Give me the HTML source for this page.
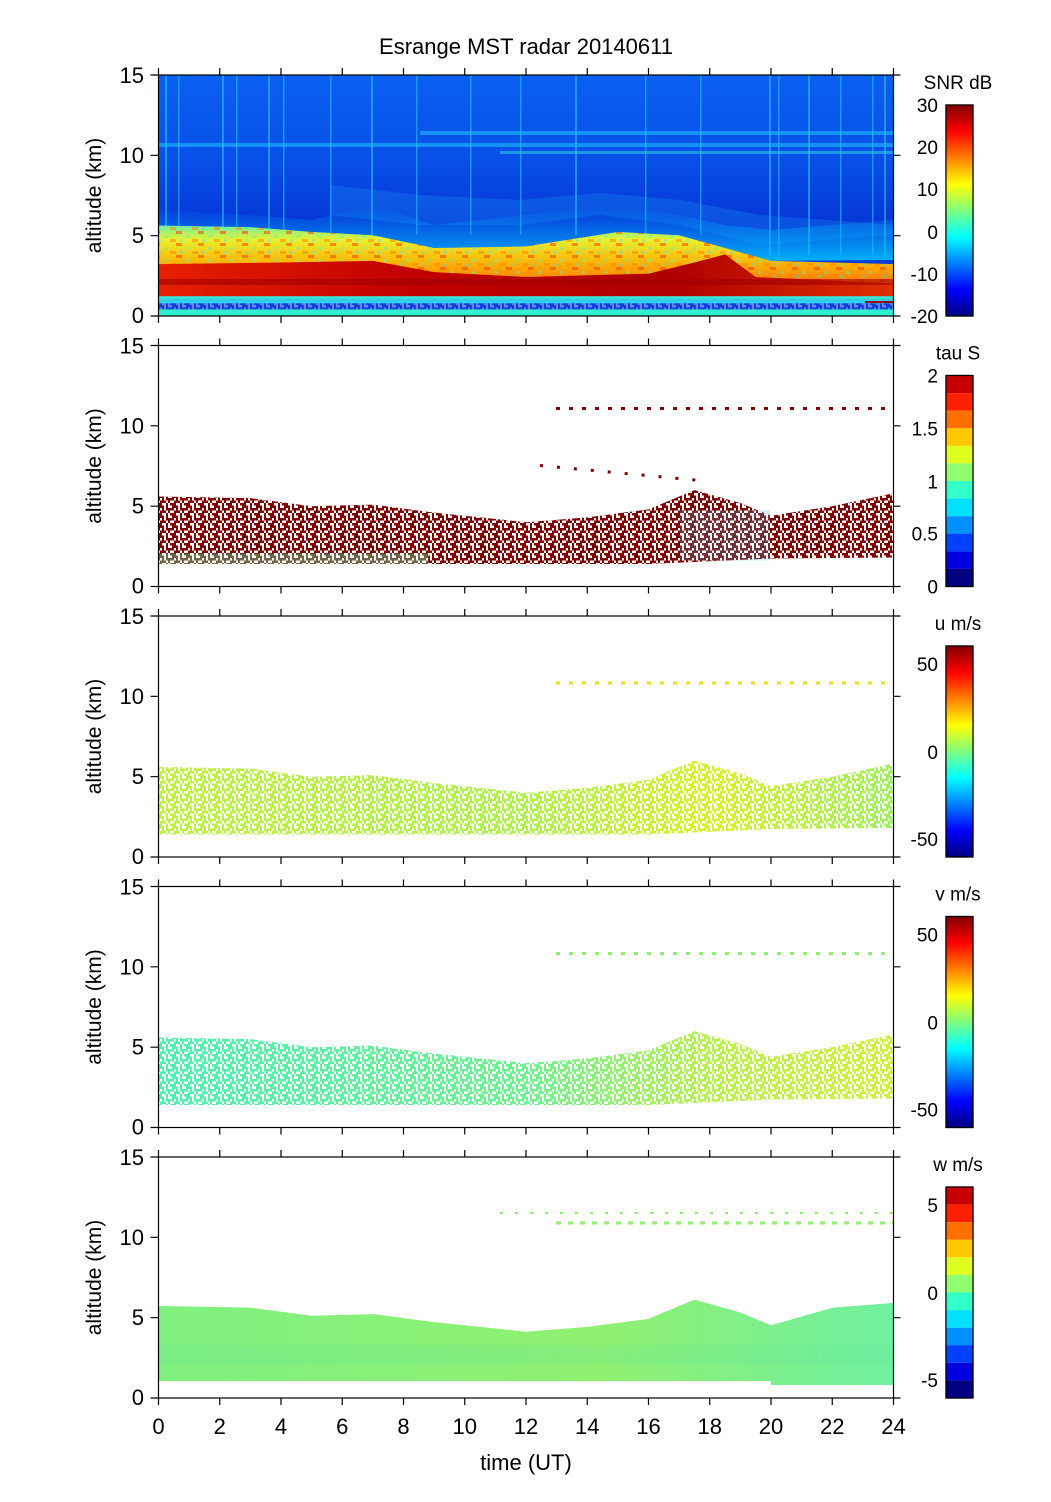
<!DOCTYPE html>
<html><head><meta charset="utf-8">
<style>
html,body{margin:0;padding:0;background:#fff;}
svg{display:block;}
text{font-family:"Liberation Sans",sans-serif;fill:#000;}
</style></head>
<body>
<svg width="1051" height="1502" xmlns="http://www.w3.org/2000/svg" xmlns:xlink="http://www.w3.org/1999/xlink">
<defs>
<linearGradient id="jet" x1="0" y1="0" x2="0" y2="1">
<stop offset="0" stop-color="#800000"/><stop offset="0.125" stop-color="#ff0000"/>
<stop offset="0.375" stop-color="#ffff00"/><stop offset="0.625" stop-color="#00ffff"/>
<stop offset="0.875" stop-color="#0000ff"/><stop offset="1" stop-color="#000080"/>
</linearGradient>
<linearGradient id="sky" x1="0" y1="0" x2="0" y2="1">
<stop offset="0" stop-color="#0a60f0"/><stop offset="0.35" stop-color="#0850e8"/>
<stop offset="0.6" stop-color="#0638d8"/><stop offset="1" stop-color="#0640d8"/>
</linearGradient>
<linearGradient id="warm" x1="0" y1="0" x2="0" y2="1">
<stop offset="0" stop-color="#70f0a0"/><stop offset="0.2" stop-color="#e8f030"/>
<stop offset="0.55" stop-color="#ffb000"/><stop offset="1" stop-color="#ff5000"/>
</linearGradient>
<linearGradient id="cyanfade" x1="0" y1="0" x2="0" y2="1">
<stop offset="0" stop-color="#00a0ff" stop-opacity="0"/><stop offset="1" stop-color="#00d0ff" stop-opacity="0.8"/>
</linearGradient>
<linearGradient id="core" x1="0" y1="0" x2="1" y2="0">
<stop offset="0" stop-color="#e82000"/><stop offset="0.35" stop-color="#c00000"/>
<stop offset="0.7" stop-color="#b00000"/><stop offset="1" stop-color="#e03000"/>
</linearGradient>
<linearGradient id="ucol" x1="0" y1="0" x2="1" y2="0">
<stop offset="0" stop-color="#c0f048"/><stop offset="0.5" stop-color="#b0f050"/>
<stop offset="0.75" stop-color="#d8f030"/><stop offset="1" stop-color="#a0f060"/>
</linearGradient>
<linearGradient id="vcol" x1="0" y1="0" x2="1" y2="0">
<stop offset="0" stop-color="#50f0b0"/><stop offset="0.5" stop-color="#70f090"/>
<stop offset="0.75" stop-color="#b8f050"/><stop offset="1" stop-color="#d0f040"/>
</linearGradient>
<linearGradient id="wcol" x1="0" y1="0" x2="1" y2="0">
<stop offset="0" stop-color="#80f080"/><stop offset="0.6" stop-color="#90f070"/>
<stop offset="1" stop-color="#70f0a0"/>
</linearGradient>
<pattern id="holes" width="14" height="10" patternUnits="userSpaceOnUse">
<rect x="0" y="0" width="4" height="2.5" fill="#fff"/>
<rect x="6" y="2.5" width="2" height="2.5" fill="#fff"/>
<rect x="10" y="0" width="2" height="5" fill="#fff"/>
<rect x="2" y="5" width="4" height="2.5" fill="#fff"/>
<rect x="8" y="7.5" width="4" height="2.5" fill="#fff"/>
<rect x="12" y="5" width="2" height="2.5" fill="#fff"/>
<rect x="0" y="7.5" width="2" height="2.5" fill="#fff"/>
</pattern>
<pattern id="mottle" width="22" height="12" patternUnits="userSpaceOnUse">
<rect x="0" y="0" width="6" height="3" fill="#ff3000" opacity="0.5"/>
<rect x="10" y="4" width="4" height="3" fill="#60f0c0" opacity="0.4"/>
<rect x="16" y="8" width="6" height="3" fill="#ff8000" opacity="0.5"/>
<rect x="4" y="8" width="3" height="3" fill="#40e0ff" opacity="0.35"/>
</pattern>
<g id="frame">
<rect x="158.5" y="0" width="735" height="241" fill="none" stroke="#000" stroke-width="1.2"/>
<path d="M158.5,241v7M219.75,241v7M281,241v7M342.25,241v7M403.5,241v7M464.75,241v7M526,241v7M587.25,241v7M648.5,241v7M709.75,241v7M771,241v7M832.25,241v7M893.5,241v7
M158.5,0v-7M219.75,0v-7M281,0v-7M342.25,0v-7M403.5,0v-7M464.75,0v-7M526,0v-7M587.25,0v-7M648.5,0v-7M709.75,0v-7M771,0v-7M832.25,0v-7M893.5,0v-7
M150.5,0h8M150.5,80.33h8M150.5,160.67h8M150.5,241h8M893.5,0h7M893.5,80.33h7M893.5,160.67h7M893.5,241h7" stroke="#000" stroke-width="1.2" fill="none"/>
<text x="144" y="8" font-size="22" text-anchor="end">15</text>
<text x="144" y="88" font-size="22" text-anchor="end">10</text>
<text x="144" y="168" font-size="22" text-anchor="end">5</text>
<text x="144" y="248" font-size="22" text-anchor="end">0</text>
<text transform="translate(101,120.5) rotate(-90)" font-size="21" text-anchor="middle">altitude (km)</text>
<rect x="946" y="30" width="27" height="211" fill="none" stroke="#000" stroke-width="1.2"/>
</g>
<g id="disc">
<rect x="946" y="30" width="27" height="17.6" fill="#c80000"/>
<rect x="946" y="47.6" width="27" height="17.6" fill="#ff2000"/>
<rect x="946" y="65.2" width="27" height="17.6" fill="#ff7000"/>
<rect x="946" y="82.8" width="27" height="17.6" fill="#ffc800"/>
<rect x="946" y="100.3" width="27" height="17.6" fill="#e0ff20"/>
<rect x="946" y="117.9" width="27" height="17.6" fill="#90ff70"/>
<rect x="946" y="135.5" width="27" height="17.6" fill="#30ffc8"/>
<rect x="946" y="153.1" width="27" height="17.6" fill="#00e0ff"/>
<rect x="946" y="170.7" width="27" height="17.6" fill="#0090ff"/>
<rect x="946" y="188.2" width="27" height="17.6" fill="#0040ff"/>
<rect x="946" y="205.8" width="27" height="17.6" fill="#0000e0"/>
<rect x="946" y="223.4" width="27" height="17.6" fill="#000080"/>
</g>
</defs>

<text x="526" y="54" font-size="22" text-anchor="middle">Esrange MST radar 20140611</text>

<g transform="translate(0,75)">
<rect x="158.5" y="0" width="735" height="241" fill="url(#sky)"/>
<g fill="#30c8ff" opacity="0.55">
<rect x="165" y="0" width="2" height="160"/><rect x="178" y="0" width="1.5" height="160"/>
<rect x="222" y="0" width="2" height="160"/><rect x="236" y="0" width="1.5" height="160"/>
<rect x="268" y="0" width="2" height="160"/><rect x="283" y="0" width="1.5" height="160"/>
<rect x="330" y="0" width="1.5" height="160"/><rect x="371" y="0" width="2" height="160"/>
<rect x="416" y="0" width="1.5" height="160"/><rect x="470" y="0" width="1.5" height="160"/>
<rect x="520" y="0" width="1.5" height="160"/><rect x="575" y="0" width="2" height="160"/>
<rect x="645" y="0" width="1.5" height="160"/><rect x="700" y="0" width="1.5" height="160"/>
<rect x="769" y="0" width="2" height="180"/><rect x="778" y="0" width="1.5" height="180"/>
<rect x="808" y="0" width="2" height="180"/><rect x="840" y="0" width="1.5" height="180"/>
<rect x="872" y="0" width="1.5" height="180"/><rect x="884" y="0" width="2" height="180"/>
</g>
<rect x="158.5" y="68" width="735" height="4" fill="#20d0ff" opacity="0.5"/>
<rect x="420" y="56" width="473" height="4" fill="#20d0ff" opacity="0.5"/>
<rect x="500" y="76" width="393" height="3" fill="#30e0e0" opacity="0.5"/>
<polygon fill="#20b0ff" opacity="0.22" points="330,110 420,120 520,125 600,118 680,125 760,140 893,150 893,160 760,170 680,150 600,140 520,150 420,150 330,140"/>
<polygon fill="url(#cyanfade)" points="158.5,135 250.4,140 311.6,145 372.9,130 434.1,150 526,140 617.9,130 679.1,140 725.1,150 771,155 893.5,145 893.5,185 771,185.9 725.1,173 679.1,160.2 617.9,156.9 526,171.4 434.1,173 372.9,160.2 311.6,156.9 250.4,152.1 158.5,150.5"/>
<polygon fill="url(#warm)" points="158.5,150.5 250.4,152.1 311.6,156.9 372.9,160.2 434.1,173 526,171.4 617.9,156.9 679.1,160.2 725.1,173 771,185.9 893.5,189.1 893.5,221.2 158.5,221.2"/>
<polygon fill="url(#mottle)" points="158.5,150.5 250.4,152.1 311.6,156.9 372.9,160.2 434.1,173 526,171.4 617.9,156.9 679.1,160.2 725.1,173 771,185.9 893.5,189.1 893.5,221.2 158.5,221.2"/>
<polygon fill="url(#core)" points="158.5,189.1 281,187.5 372.9,185.9 434.1,197.1 526,202 648.5,198.7 694.4,187.5 725.1,179.4 755.7,202 893.5,208.4 893.5,221.2 158.5,221.2"/>
<rect x="158.5" y="204" width="735" height="6" fill="#a00000" opacity="0.6"/>
<rect x="158.5" y="221.2" width="735" height="3.2" fill="#40e0d0"/>
<rect x="158.5" y="224.4" width="735" height="4" fill="#30d0f0"/>
<rect x="158.5" y="228.4" width="735" height="6" fill="#1040e0"/>
<rect x="158.5" y="228.4" width="735" height="6" fill="url(#holes)" opacity="0.35"/>
<rect x="158.5" y="234.4" width="735" height="6.6" fill="#30f0d0"/>
<rect x="865" y="226" width="28" height="2" fill="#a00000"/>
<use xlink:href="#frame"/>
<rect x="946" y="30" width="27" height="211" fill="url(#jet)"/>
<rect x="946" y="30" width="27" height="211" fill="none" stroke="#000" stroke-width="1.2"/>
<text x="958" y="14" font-size="19" text-anchor="middle">SNR dB</text>
<text x="938" y="37" font-size="19" text-anchor="end">30</text>
<text x="938" y="79" font-size="19" text-anchor="end">20</text>
<text x="938" y="121" font-size="19" text-anchor="end">10</text>
<text x="938" y="164" font-size="19" text-anchor="end">0</text>
<text x="938" y="206" font-size="19" text-anchor="end">-10</text>
<text x="938" y="248" font-size="19" text-anchor="end">-20</text>
</g>

<g transform="translate(0,345.5)">
<polygon fill="#800000" points="158.5,151 250.4,152.6 311.6,160.7 372.9,159.1 434.1,167.1 526,176.7 587.3,171.9 648.5,163.9 694.4,144.6 740.4,157.5 771,170.3 832.3,160.7 893.5,147.8 893.5,212 771,213 648.5,218.5 158.5,218.5"/>
<rect x="158.5" y="208" width="270" height="10.5" fill="#60e0a0" opacity="0.45"/>
<rect x="680" y="165" width="90" height="50" fill="#40c0d0" opacity="0.25"/>
<polygon fill="url(#holes)" points="158.5,151 250.4,152.6 311.6,160.7 372.9,159.1 434.1,167.1 526,176.7 587.3,171.9 648.5,163.9 694.4,144.6 740.4,157.5 771,170.3 832.3,160.7 893.5,147.8 893.5,212 771,213 648.5,218.5 158.5,218.5"/>
<line x1="556" y1="63" x2="893" y2="63" stroke="#800000" stroke-width="3" stroke-dasharray="4 9"/>
<line x1="540" y1="120" x2="700" y2="135" stroke="#800000" stroke-width="3" stroke-dasharray="3 14"/>
<use xlink:href="#frame"/>
<use xlink:href="#disc"/>
<rect x="946" y="30" width="27" height="211" fill="none" stroke="#000" stroke-width="1.2"/>
<text x="958" y="14" font-size="19" text-anchor="middle">tau S</text>
<text x="938" y="37" font-size="19" text-anchor="end">2</text>
<text x="938" y="90" font-size="19" text-anchor="end">1.5</text>
<text x="938" y="143" font-size="19" text-anchor="end">1</text>
<text x="938" y="195" font-size="19" text-anchor="end">0.5</text>
<text x="938" y="248" font-size="19" text-anchor="end">0</text>
</g>

<g transform="translate(0,616)">
<polygon fill="url(#ucol)" points="158.5,151 250.4,152.6 311.6,160.7 372.9,159.1 434.1,167.1 526,176.7 587.3,171.9 648.5,163.9 694.4,144.6 740.4,157.5 771,170.3 832.3,160.7 893.5,147.8 893.5,212 771,213 648.5,218.5 158.5,218.5"/>
<polygon fill="url(#holes)" points="158.5,151 250.4,152.6 311.6,160.7 372.9,159.1 434.1,167.1 526,176.7 587.3,171.9 648.5,163.9 694.4,144.6 740.4,157.5 771,170.3 832.3,160.7 893.5,147.8 893.5,212 771,213 648.5,218.5 158.5,218.5"/>
<line x1="556" y1="67" x2="893" y2="67" stroke="#e8e020" stroke-width="3" stroke-dasharray="4 9"/>
<use xlink:href="#frame"/>
<rect x="946" y="30" width="27" height="211" fill="url(#jet)"/>
<rect x="946" y="30" width="27" height="211" fill="none" stroke="#000" stroke-width="1.2"/>
<text x="958" y="14" font-size="19" text-anchor="middle">u m/s</text>
<text x="938" y="55" font-size="19" text-anchor="end">50</text>
<text x="938" y="143" font-size="19" text-anchor="end">0</text>
<text x="938" y="230" font-size="19" text-anchor="end">-50</text>
</g>

<g transform="translate(0,886.5)">
<polygon fill="url(#vcol)" points="158.5,151 250.4,152.6 311.6,160.7 372.9,159.1 434.1,167.1 526,176.7 587.3,171.9 648.5,163.9 694.4,144.6 740.4,157.5 771,170.3 832.3,160.7 893.5,147.8 893.5,212 771,213 648.5,218.5 158.5,218.5"/>
<polygon fill="url(#holes)" points="158.5,151 250.4,152.6 311.6,160.7 372.9,159.1 434.1,167.1 526,176.7 587.3,171.9 648.5,163.9 694.4,144.6 740.4,157.5 771,170.3 832.3,160.7 893.5,147.8 893.5,212 771,213 648.5,218.5 158.5,218.5"/>
<line x1="556" y1="67" x2="893" y2="67" stroke="#90f070" stroke-width="3" stroke-dasharray="4 9"/>
<use xlink:href="#frame"/>
<rect x="946" y="30" width="27" height="211" fill="url(#jet)"/>
<rect x="946" y="30" width="27" height="211" fill="none" stroke="#000" stroke-width="1.2"/>
<text x="958" y="14" font-size="19" text-anchor="middle">v m/s</text>
<text x="938" y="55" font-size="19" text-anchor="end">50</text>
<text x="938" y="143" font-size="19" text-anchor="end">0</text>
<text x="938" y="230" font-size="19" text-anchor="end">-50</text>
</g>

<g transform="translate(0,1157)">
<polygon fill="url(#wcol)" points="158.5,149 250.4,150.6 311.6,158.7 372.9,157.1 434.1,165.1 526,174.7 587.3,169.9 648.5,161.9 694.4,142.6 740.4,155.5 771,168.3 832.3,150.7 893.5,145.8 893.5,228 771,228 771,224 158.5,224"/>
<rect x="158.5" y="188" width="735" height="20" fill="#60e0a0" opacity="0.2"/>
<line x1="556" y1="66" x2="893" y2="66" stroke="#90f070" stroke-width="3" stroke-dasharray="5 7"/>
<line x1="500" y1="56" x2="893" y2="56" stroke="#90f070" stroke-width="2" stroke-dasharray="3 12"/>
<use xlink:href="#frame"/>
<use xlink:href="#disc"/>
<rect x="946" y="30" width="27" height="211" fill="none" stroke="#000" stroke-width="1.2"/>
<text x="958" y="14" font-size="19" text-anchor="middle">w m/s</text>
<text x="938" y="55" font-size="19" text-anchor="end">5</text>
<text x="938" y="143" font-size="19" text-anchor="end">0</text>
<text x="938" y="230" font-size="19" text-anchor="end">-5</text>
</g>

<g font-size="22" text-anchor="middle">
<text x="158.5" y="1434">0</text><text x="219.75" y="1434">2</text><text x="281" y="1434">4</text>
<text x="342.25" y="1434">6</text><text x="403.5" y="1434">8</text><text x="464.75" y="1434">10</text>
<text x="526" y="1434">12</text><text x="587.25" y="1434">14</text><text x="648.5" y="1434">16</text>
<text x="709.75" y="1434">18</text><text x="771" y="1434">20</text><text x="832.25" y="1434">22</text>
<text x="893.5" y="1434">24</text>
</g>
<text x="526" y="1470" font-size="22" text-anchor="middle">time (UT)</text>
</svg>
</body></html>
